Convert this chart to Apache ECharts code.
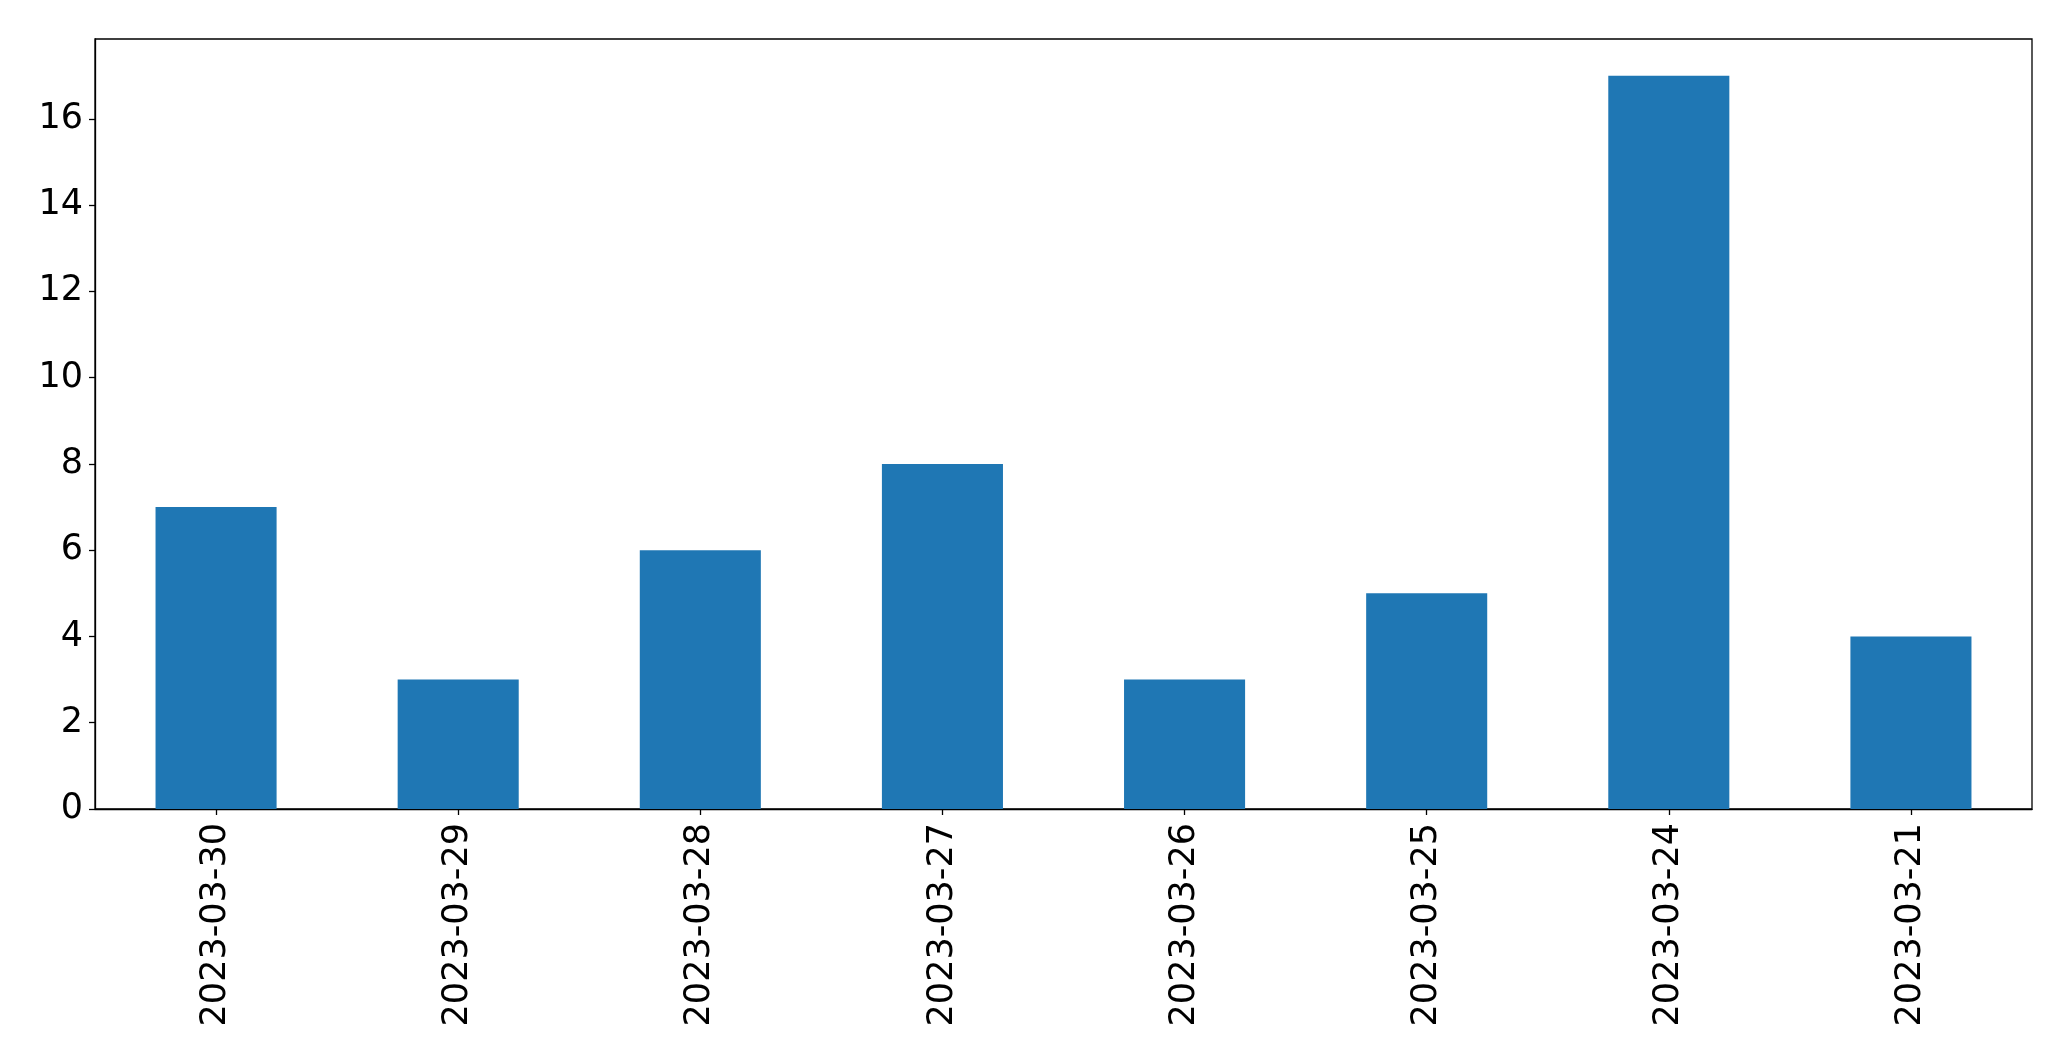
<!DOCTYPE html>
<html>
<head>
<meta charset="utf-8">
<script src="https://cdn.jsdelivr.net/npm/echarts@6/dist/echarts.min.js"></script>
<style>
html,body{margin:0;padding:0;background:#fff;}
#chart{width:2071px;height:1061px;}
</style>
</head>
<body>
<div id="chart"></div>
<script>
const categories = ['2023-03-30','2023-03-29','2023-03-28','2023-03-27','2023-03-26','2023-03-25','2023-03-24','2023-03-21'];
const values = [7, 3, 6, 8, 3, 5, 17, 4];
const yTicks = [0, 2, 4, 6, 8, 10, 12, 14, 16];

const chart = echarts.init(document.getElementById('chart'), null, {renderer: 'canvas'});
const font = 'DejaVu Sans';
chart.setOption({
  animation: false,
  backgroundColor: '#ffffff',
  grid: {
    left: 95, right: 39, top: 39, bottom: 252,
    show: true, borderColor: '#000', borderWidth: 1.3, backgroundColor: 'transparent'
  },
  xAxis: {
    type: 'category',
    data: categories,
    boundaryGap: true,
    axisLine: {show: true, lineStyle: {color: '#000', width: 1.3}},
    axisTick: {show: true, alignWithLabel: true, length: 6, lineStyle: {color: '#000', width: 1.3}},
    axisLabel: {rotate: 90, fontSize: 35, color: '#000', fontFamily: font, margin: 14, interval: 0},
    splitLine: {show: false}
  },
  yAxis: {
    type: 'value',
    min: 0,
    max: 17.85,
    interval: 2,
    axisLine: {show: true, lineStyle: {color: '#000', width: 1.3}},
    axisTick: {show: true, length: 6, customValues: yTicks, lineStyle: {color: '#000', width: 1.3}},
    axisLabel: {fontSize: 35, color: '#000', fontFamily: font, margin: 12, customValues: yTicks},
    splitLine: {show: false}
  },
  series: [{
    type: 'bar',
    data: values,
    barWidth: '50%',
    itemStyle: {color: '#1f77b4'}
  }]
});
</script>
</body>
</html>
